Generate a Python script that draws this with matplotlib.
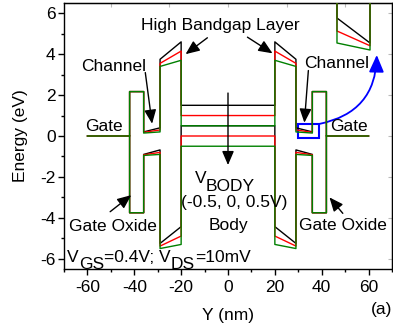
import matplotlib
matplotlib.use("Agg")
import matplotlib.pyplot as plt
from matplotlib.patches import Rectangle, FancyArrowPatch
from matplotlib.ticker import MultipleLocator

plt.rcParams.update({
    'font.family': ['Liberation Sans', 'DejaVu Sans'],
    'font.size': 12.5,
    'axes.unicode_minus': False,
})

# Layer boundaries (nm), left half -- the device is mirrored about Y=0
x_gate = -60
x_oxide = -42
x_channel = -36
x_hb = -29
x_body = -20

# Band energies (eV) for the three body biases
vbody = [-0.5, 0.0, 0.5]
colors = ['black', 'red', 'green']

gate_level = 0.0
oxide_ec = 2.17
oxide_ev = -3.75
chan_ec_outer = [0.20, 0.178, 0.144]
chan_ec_inner = [0.40, 0.296, 0.20]
chan_ev_outer = [-0.90, -0.92, -0.95]
chan_ev_inner = [-0.68, -0.80, -0.90]
hb_ec_outer = [3.75, 3.55, 3.40]
hb_ec_inner = [4.60, 4.15, 3.70]
hb_ev_outer = [-5.25, -5.38, -5.50]
hb_ev_inner = [-4.43, -4.89, -5.30]
body_upper = [1.5, 1.0, 0.5]
body_lower = [0.5, 0.0, -0.5]


def mirror(xs, es):
    """Complete a left-half profile with its mirror image"""
    return xs + [-v for v in reversed(xs)], es + list(reversed(es))


def band_paths(i):
    xc = [x_gate, x_oxide, x_oxide, x_channel, x_channel, x_hb, x_hb, x_body, x_body]
    ec = [gate_level, gate_level, oxide_ec, oxide_ec, chan_ec_outer[i], chan_ec_inner[i],
          hb_ec_outer[i], hb_ec_inner[i], body_upper[i]]
    xv = [x_oxide, x_oxide, x_channel, x_channel, x_hb, x_hb, x_body, x_body]
    ev = [gate_level, oxide_ev, oxide_ev, chan_ev_outer[i], chan_ev_inner[i],
          hb_ev_outer[i], hb_ev_inner[i], body_lower[i]]
    return mirror(xc, ec), mirror(xv, ev)


def chain_text(ax, x, y, pieces):
    """Write text pieces one after another; each piece has its own vertical shift (pt)"""
    prev = ax.text(x, y, pieces[0][0], ha='left', va='bottom')
    shift = pieces[0][1]
    for s, dy in pieces[1:]:
        prev = ax.annotate(s, xy=(1, 0), xycoords=prev, xytext=(0, dy - shift),
                           textcoords='offset points', ha='left', va='bottom')
        shift = dy


fig = plt.figure(figsize=(3.93, 3.26), dpi=100)
ax = fig.add_axes([64 / 393, 57 / 326, 328 / 393, 266 / 326])

for i, c in enumerate(colors):
    (xc, ec), (xv, ev) = band_paths(i)
    ax.plot(xc, ec, color=c, lw=1.0)
    ax.plot(xv, ev, color=c, lw=1.0)

ax.set_xlim(-70, 70)
ax.set_ylim(-6.5, 6.5)
ax.xaxis.set_major_locator(MultipleLocator(20))
ax.xaxis.set_minor_locator(MultipleLocator(10))
ax.yaxis.set_major_locator(MultipleLocator(2))
ax.yaxis.set_minor_locator(MultipleLocator(1))
ax.tick_params(which='major', direction='out', length=4, width=1, labelsize=12.5, pad=2)
ax.tick_params(axis='x', which='major', pad=4)
ax.tick_params(which='minor', direction='out', length=2.5, width=1)
for sp in ax.spines.values():
    sp.set_linewidth(1.0)

# faint inward ticks on top / right
for sec in (ax.secondary_xaxis('top'), ax.secondary_yaxis('right')):
    sec.tick_params(which='both', direction='in', length=3, color='#bbbbbb')
    sec.tick_params(labelleft=False, labelright=False, labeltop=False, labelbottom=False)
ax.set_xlabel('Y (nm)', labelpad=9)
ax.set_ylabel('Energy (eV)', labelpad=9)

# text labels
ax.text(-3.1, 5.16, 'High Bandgap Layer', ha='center', va='baseline')
ax.text(-48.8, 3.2, 'Channel', ha='center', va='baseline')
ax.text(46.4, 3.33, 'Channel', ha='center', va='baseline')
ax.text(-53, 0.26, 'Gate', ha='center', va='baseline')
ax.text(51.7, 0.24, 'Gate', ha='center', va='baseline')
ax.text(-49.2, -4.65, 'Gate Oxide', ha='center', va='baseline')
ax.text(49.0, -4.6, 'Gate Oxide', ha='center', va='baseline')
ax.text(2.7, -3.46, '(-0.5, 0, 0.5V)', ha='center', va='baseline')
ax.text(0, -4.6, 'Body', ha='center', va='baseline')
chain_text(ax, -14.3, -2.45, [('V', 0), ('BODY', -5.5)])
chain_text(ax, -68.6, -6.3, [('V', 0), ('GS', -5), ('=0.4V; V', 0), ('DS', -5), ('=10mV', 0)])
fig.text(0.972, 0.05, '(a)', ha='center', va='center')

# black annotation arrows
arrows = [
    ((-8.8, 4.8), (-18.1, 4.0)),
    ((8.3, 4.83), (19.0, 4.04)),
    ((-35.3, 3.1), (-32.4, 0.6)),
    ((34.3, 3.2), (32.6, 0.65)),
    ((-50.3, -3.7), (-41.3, -2.89)),
    ((49.0, -3.78), (43.3, -3.0)),
    ((0, 2.1), (0, -1.42)),
]
for start, tip in arrows:
    ax.annotate('', xy=tip, xytext=start,
                arrowprops=dict(arrowstyle='-|>,head_length=0.7,head_width=0.3',
                                color='black', lw=1.0, shrinkA=0, shrinkB=0,
                                mutation_scale=12))

# zoom box and curved arrow to the inset
ax.add_patch(Rectangle((30, -0.08), 9, 0.67, fill=False, ec='blue', lw=1.5))
ax.add_patch(FancyArrowPatch((39, 0.59), (63.5, 3.96), connectionstyle='arc3,rad=0.4',
                             arrowstyle='-|>,head_length=0.8,head_width=0.35',
                             mutation_scale=13, color='blue', lw=1.3,
                             shrinkA=0, shrinkB=0))

# inset: magnified right channel conduction band
ins = fig.add_axes([335 / 393, (326 - 55) / 326, 37 / 393, 52 / 326])
for i, c in enumerate(colors):
    (xc, ec), _ = band_paths(i)
    ins.plot(xc, ec, color=c, lw=1.0)
ins.set_xlim(28.58, 36.42)
ins.set_ylim(0.104, 0.52)
ins.axis('off')
ins.patch.set_alpha(0)

plt.savefig('out.png', dpi=100)
